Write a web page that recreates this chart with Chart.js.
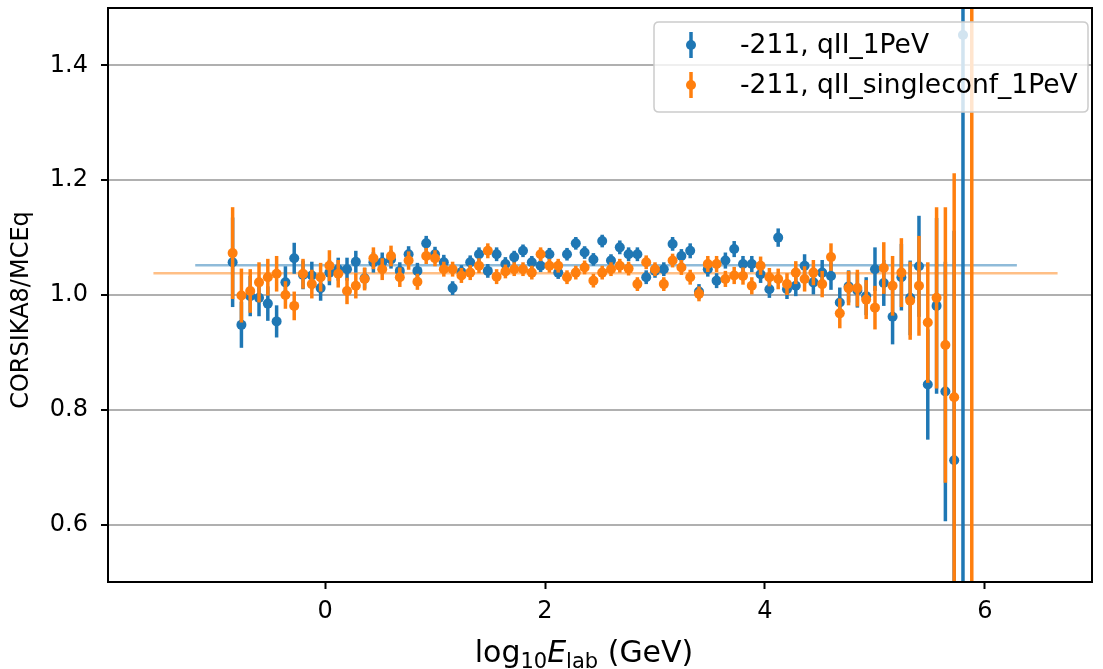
<!DOCTYPE html>
<html>
<head>
<meta charset="utf-8">
<title>CORSIKA8 / MCEq ratio</title>
<script src="https://cdn.jsdelivr.net/npm/chart.js@4.4.1/dist/chart.umd.min.js"></script>
<style>
  html, body { margin: 0; padding: 0; background: #fff; }
  #ratioChart { display: block; }
</style>
</head>
<body>
<canvas id="ratioChart" width="1103" height="669"></canvas>
<script>
// bin centres in log10(E_lab / GeV)
const energies = [
  -0.84, -0.76, -0.68, -0.60, -0.52, -0.44, -0.36, -0.28, -0.20, -0.12, -0.04,
  0.04, 0.12, 0.20, 0.28, 0.36, 0.44, 0.52, 0.60, 0.68, 0.76,
  0.84, 0.92, 1.00, 1.08, 1.16, 1.24, 1.32, 1.40, 1.48, 1.56,
  1.64, 1.72, 1.80, 1.88, 1.96, 2.04, 2.12, 2.20, 2.28, 2.36,
  2.44, 2.52, 2.60, 2.68, 2.76, 2.84, 2.92, 3.00, 3.08, 3.16,
  3.24, 3.32, 3.40, 3.48, 3.56, 3.64, 3.72, 3.80, 3.88, 3.96,
  4.04, 4.12, 4.20, 4.28, 4.36, 4.44, 4.52, 4.60, 4.68, 4.76,
  4.84, 4.92, 5.00, 5.08, 5.16, 5.24, 5.32, 5.40, 5.48, 5.56,
  5.64, 5.72, 5.80, 5.88
];

// -211, qII_1PeV
const ratioQII = [
  1.057, 0.948, 0.998, 0.995, 0.985, 0.954, 1.022, 1.064, 1.035, 1.034,
  1.012, 1.039, 1.045, 1.045, 1.058, 1.029, 1.057, 1.057, 1.062, 1.042,
  1.071, 1.042, 1.090, 1.071, 1.057, 1.012, 1.040, 1.057, 1.071, 1.042,
  1.071, 1.054, 1.066, 1.077, 1.057, 1.051, 1.071, 1.039, 1.071, 1.090,
  1.074, 1.062, 1.094, 1.060, 1.083, 1.071, 1.071, 1.031, 1.042, 1.045,
  1.089, 1.068, 1.077, 1.006, 1.045, 1.025, 1.060, 1.080, 1.054, 1.054,
  1.036, 1.010, 1.100, 1.010, 1.016, 1.051, 1.022, 1.039, 1.033, 0.987,
  1.015, 1.008, 0.998, 1.045, 1.021, 0.962, 1.031, 0.995, 1.050, 0.844,
  0.981, 0.832, 0.712, 1.453, null
];
const errQII = [
  0.078, 0.040, 0.035, 0.032, 0.030, 0.028, 0.028, 0.027, 0.025, 0.024,
  0.022, 0.022, 0.020, 0.020, 0.019, 0.018, 0.018, 0.017, 0.016, 0.015,
  0.014, 0.014, 0.013, 0.013, 0.013, 0.012, 0.012, 0.012, 0.012, 0.012,
  0.012, 0.012, 0.011, 0.011, 0.011, 0.011, 0.011, 0.011, 0.011, 0.011,
  0.011, 0.011, 0.011, 0.011, 0.012, 0.012, 0.012, 0.012, 0.012, 0.012,
  0.012, 0.012, 0.013, 0.013, 0.013, 0.013, 0.014, 0.014, 0.014, 0.014,
  0.015, 0.015, 0.016, 0.017, 0.018, 0.020, 0.021, 0.022, 0.024, 0.026,
  0.028, 0.030, 0.033, 0.038, 0.040, 0.048, 0.058, 0.065, 0.088, 0.096,
  0.153, 0.226, 0.400, 1.200, null
];

// -211, qII_singleconf_1PeV
const ratioSingleconf = [
  1.073, 0.999, 1.007, 1.022, 1.031, 1.037, 1.000, 0.981, 1.037, 1.019,
  1.031, 1.051, 1.037, 1.007, 1.016, 1.028, 1.064, 1.045, 1.068, 1.031,
  1.060, 1.023, 1.068, 1.064, 1.045, 1.045, 1.034, 1.039, 1.051, 1.077,
  1.032, 1.041, 1.045, 1.045, 1.039, 1.071, 1.051, 1.051, 1.031, 1.039,
  1.048, 1.025, 1.039, 1.045, 1.051, 1.046, 1.019, 1.057, 1.045, 1.019,
  1.060, 1.048, 1.031, 1.002, 1.054, 1.054, 1.028, 1.034, 1.033, 1.016,
  1.051, 1.031, 1.028, 1.019, 1.039, 1.028, 1.039, 1.019, 1.066, 0.968,
  1.012, 1.012, 0.992, 0.978, 1.047, 1.016, 1.039, 0.990, 1.016, 0.952,
  0.995, 0.913, 0.822, null, 1.700
];
const errSingleconf = [
  0.080, 0.047, 0.038, 0.035, 0.032, 0.031, 0.024, 0.025, 0.026, 0.025,
  0.025, 0.027, 0.024, 0.023, 0.022, 0.020, 0.019, 0.019, 0.018, 0.017,
  0.016, 0.014, 0.014, 0.014, 0.013, 0.013, 0.013, 0.013, 0.013, 0.013,
  0.013, 0.012, 0.012, 0.012, 0.012, 0.012, 0.012, 0.012, 0.012, 0.012,
  0.012, 0.012, 0.012, 0.012, 0.012, 0.012, 0.012, 0.012, 0.012, 0.012,
  0.012, 0.013, 0.013, 0.013, 0.014, 0.014, 0.014, 0.015, 0.015, 0.015,
  0.016, 0.016, 0.018, 0.019, 0.020, 0.022, 0.022, 0.023, 0.024, 0.026,
  0.030, 0.032, 0.034, 0.038, 0.045, 0.052, 0.060, 0.068, 0.087, 0.105,
  0.158, 0.240, 0.390, null, 1.600
];

// mean ratio lines: [level], [from, to]
const meanLevels = [1.052, 1.038];
const meanSpanQII = [-1.18, 6.29];
const meanSpanSingleconf = [-1.56, 6.66];

const xTicks = [0, 2, 4, 6];
const yTicks = [0.6, 0.8, 1.0, 1.2, 1.4];
const seriesLabels = ["-211, qII_1PeV", "-211, qII_singleconf_1PeV"];

const BLUE = "#1f77b4";
const ORANGE = "#ff7f0e";
const FONT = "DejaVu Sans";

function toPoints(values) {
  return energies.map((x, i) => ({ x: x, y: values[i] }));
}

function drawXTitle(ctx, cx, baseline) {
  const parts = [
    { t: "log", font: "30px " + FONT, dy: 0 },
    { t: "10", font: "21px " + FONT, dy: 6 },
    { t: "E", font: "italic 30px " + FONT, dy: 0 },
    { t: "lab", font: "21px " + FONT, dy: 6 },
    { t: " (GeV)", font: "30px " + FONT, dy: 0 },
  ];
  let total = 0;
  parts.forEach((p) => {
    ctx.font = p.font;
    p.w = ctx.measureText(p.t).width;
    total += p.w;
  });
  let x = cx - total / 2;
  ctx.fillStyle = "#000";
  ctx.textAlign = "left";
  ctx.textBaseline = "alphabetic";
  parts.forEach((p) => {
    ctx.font = p.font;
    ctx.fillText(p.t, x, baseline + p.dy);
    x += p.w;
  });
}

function drawLegend(chart) {
  const ctx = chart.ctx;
  const area = chart.chartArea;
  const w = 434, h = 90, r = 5;
  const x0 = area.right - 4 - w;
  const y0 = area.top + 14;

  ctx.save();
  ctx.beginPath();
  ctx.moveTo(x0 + r, y0);
  ctx.lineTo(x0 + w - r, y0);
  ctx.quadraticCurveTo(x0 + w, y0, x0 + w, y0 + r);
  ctx.lineTo(x0 + w, y0 + h - r);
  ctx.quadraticCurveTo(x0 + w, y0 + h, x0 + w - r, y0 + h);
  ctx.lineTo(x0 + r, y0 + h);
  ctx.quadraticCurveTo(x0, y0 + h, x0, y0 + h - r);
  ctx.lineTo(x0, y0 + r);
  ctx.quadraticCurveTo(x0, y0, x0 + r, y0);
  ctx.closePath();
  ctx.fillStyle = "rgba(255,255,255,0.8)";
  ctx.fill();
  ctx.strokeStyle = "#cccccc";
  ctx.lineWidth = 1.5;
  ctx.stroke();

  const colors = [BLUE, ORANGE];
  seriesLabels.forEach((label, i) => {
    const cy = y0 + 23 + i * 40;
    const mx = x0 + 37;
    ctx.strokeStyle = colors[i];
    ctx.lineWidth = 3.5;
    ctx.beginPath();
    ctx.moveTo(mx, cy - 13);
    ctx.lineTo(mx, cy + 13);
    ctx.stroke();
    ctx.fillStyle = colors[i];
    ctx.beginPath();
    ctx.arc(mx, cy, 5, 0, Math.PI * 2);
    ctx.fill();
    ctx.fillStyle = "#000";
    ctx.font = "26.5px " + FONT;
    ctx.textAlign = "left";
    ctx.textBaseline = "middle";
    ctx.fillText(label, x0 + 86, cy + 1);
  });
  ctx.restore();
}

const errorBarPlugin = {
  id: "errorBars",
  beforeDatasetDraw(chart, args) {
    const ds = chart.data.datasets[args.index];
    if (!ds.errors) return;
    const { ctx, chartArea, scales } = chart;
    ctx.save();
    ctx.beginPath();
    ctx.rect(chartArea.left, chartArea.top,
      chartArea.right - chartArea.left, chartArea.bottom - chartArea.top);
    ctx.clip();
    ctx.strokeStyle = ds.backgroundColor;
    ctx.lineWidth = 3.5;
    ds.data.forEach((p, i) => {
      const err = ds.errors[i];
      if (p.y == null || err == null) return;
      const x = scales.x.getPixelForValue(p.x);
      ctx.beginPath();
      ctx.moveTo(x, scales.y.getPixelForValue(p.y - err));
      ctx.lineTo(x, scales.y.getPixelForValue(p.y + err));
      ctx.stroke();
    });
    ctx.restore();
  },
  afterDraw(chart) {
    const { ctx, chartArea } = chart;
    // full box around the axes, like matplotlib spines
    ctx.save();
    ctx.strokeStyle = "#000";
    ctx.lineWidth = 2;
    ctx.strokeRect(chartArea.left, chartArea.top,
      chartArea.right - chartArea.left, chartArea.bottom - chartArea.top);

    drawXTitle(ctx, 584, 662);

    ctx.translate(22, 310);
    ctx.rotate(-Math.PI / 2);
    ctx.font = "24px " + FONT;
    ctx.fillStyle = "#000";
    ctx.textAlign = "center";
    ctx.textBaseline = "middle";
    ctx.fillText("CORSIKA8/MCEq", 0, 0);
    ctx.restore();

    drawLegend(chart);
  },
};

const ctx = document.getElementById("ratioChart").getContext("2d");
new Chart(ctx, {
  data: {
    datasets: [
      {
        type: "scatter",
        label: seriesLabels[0],
        data: toPoints(ratioQII),
        errors: errQII,
        backgroundColor: BLUE,
        borderWidth: 0,
        pointRadius: 5,
        pointHoverRadius: 5,
        order: 1,
      },
      {
        type: "scatter",
        label: seriesLabels[1],
        data: toPoints(ratioSingleconf),
        errors: errSingleconf,
        backgroundColor: ORANGE,
        borderWidth: 0,
        pointRadius: 5,
        pointHoverRadius: 5,
        order: 0,
      },
      {
        type: "line",
        label: "mean qII",
        data: meanSpanQII.map((x) => ({ x: x, y: meanLevels[0] })),
        borderColor: "rgba(31,119,180,0.5)",
        borderWidth: 2.5,
        pointRadius: 0,
        order: 3,
      },
      {
        type: "line",
        label: "mean singleconf",
        data: meanSpanSingleconf.map((x) => ({ x: x, y: meanLevels[1] })),
        borderColor: "rgba(255,127,14,0.5)",
        borderWidth: 2.5,
        pointRadius: 0,
        order: 2,
      },
    ],
  },
  options: {
    responsive: false,
    devicePixelRatio: 1,
    animation: false,
    layout: { padding: { top: 8, right: 11, left: 0, bottom: 0 } },
    plugins: {
      legend: { display: false },
      tooltip: { enabled: false },
      title: { display: false },
    },
    scales: {
      x: {
        type: "linear",
        min: -1.973,
        max: 6.973,
        afterBuildTicks: (scale) => {
          scale.ticks = xTicks.map((v) => ({ value: v }));
        },
        afterFit: (scale) => {
          scale.height = 87;
          scale.paddingLeft = 0;
          scale.paddingRight = 0;
        },
        grid: {
          drawOnChartArea: false,
          drawTicks: true,
          tickLength: 7,
          tickWidth: 2,
          tickColor: "#000",
        },
        border: { display: true, color: "#000", width: 2 },
        ticks: {
          color: "#000",
          padding: 8,
          maxRotation: 0,
          font: { family: FONT, size: 24 },
          callback: (v) => String(v),
        },
      },
      y: {
        type: "linear",
        min: 0.5,
        max: 1.5,
        afterBuildTicks: (scale) => {
          scale.ticks = yTicks.map((v) => ({ value: v }));
        },
        afterFit: (scale) => {
          scale.width = 108;
          scale.paddingTop = 0;
          scale.paddingBottom = 0;
        },
        grid: {
          color: "#b0b0b0",
          lineWidth: 2,
          drawTicks: true,
          tickLength: 7,
          tickWidth: 2,
          tickColor: "#000",
        },
        border: { display: true, color: "#000", width: 2 },
        ticks: {
          color: "#000",
          padding: 13,
          font: { family: FONT, size: 24 },
          callback: (v) => v.toFixed(1),
        },
      },
    },
  },
  plugins: [errorBarPlugin],
});
</script>
</body>
</html>
